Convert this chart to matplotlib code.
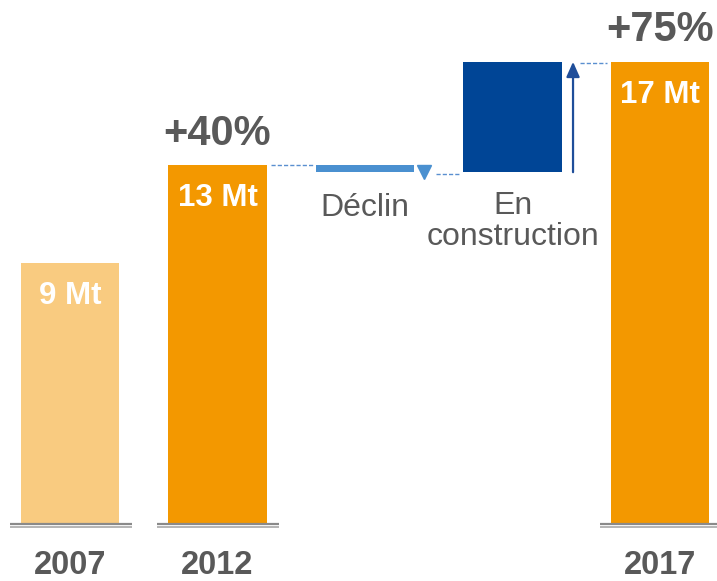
import matplotlib
matplotlib.use("Agg")
import matplotlib.pyplot as plt

# Data
years = ["2007", "2012", "", "", "2017"]
steps = ["", "", "Déclin", "En\nconstruction", ""]
totals = [9.45, 13.0, None, None, 16.75]
decline = -0.25
construction = 4.0
value_labels = ["9 Mt", "13 Mt", "", "", "17 Mt"]
growth_labels = {1: "+40%", 4: "+75%"}

W, H = 717, 581
fig = plt.figure(figsize=(W / 100, H / 100), dpi=100)
ax = fig.add_axes([0, 0, 1, 1])
ax.set_xlim(-0.4746, 4.386)
ax.set_ylim(-2.065, 18.99)
ax.axis("off")

bw = 0.665
c_light = "#F9CB80"
c_orange = "#F39800"
c_decl = "#4A90D0"
c_cons = "#004596"
c_arrow = "#1F4E9A"
c_dash = "#5A8FD0"
gray = "#595959"

# totals
ax.bar(0, totals[0], width=bw, color=c_light, zorder=2)
ax.bar(1, totals[1], width=bw, color=c_orange, zorder=2)
ax.bar(4, totals[4], width=bw, color=c_orange, zorder=2)

# decline bar
start = totals[1]
ax.bar(2, decline, bottom=start, width=bw, color=c_decl, zorder=2)
after_decl = start + decline
# construction bar
ax.bar(3, construction, bottom=after_decl, width=bw, color=c_cons, zorder=2)
end = after_decl + construction

# triangle for decline
ax.plot(2 + 0.40, start - 0.24, marker="v", color=c_decl, markersize=10, zorder=3)
# arrow for construction
ax.annotate("", xy=(3 + 0.41, end), xytext=(3 + 0.41, after_decl),
            arrowprops=dict(arrowstyle="-|>,head_width=0.4,head_length=0.9",
                            color=c_arrow, lw=1.6, shrinkA=0, shrinkB=0), zorder=3)

# dashed connectors
ax.plot([1 + bw / 2 + 0.03, 2 - bw / 2 - 0.02], [start, start], ls=(0, (3, 1.5)),
        color=c_dash, lw=1)
ax.plot([2 + 0.48, 3 - bw / 2 - 0.02], [after_decl - 0.07, after_decl - 0.07],
        ls=(0, (3, 1.5)), color=c_dash, lw=1)
ax.plot([3 + 0.46, 4 - bw / 2 - 0.03], [end - 0.05, end - 0.05],
        ls=(0, (3, 1.5)), color=c_dash, lw=1)

# baselines (double gray lines)
for i in (0, 1, 4):
    ax.plot([i - 0.41, i + 0.42], [0, 0], color="#8a8a8a", lw=1.6, zorder=3,
            solid_capstyle="butt")
    ax.plot([i - 0.41, i + 0.42], [-0.12, -0.12], color="#a8a8a8", lw=1.2,
            zorder=3, solid_capstyle="butt")

# value labels inside bars
for i, lab in enumerate(value_labels):
    if lab:
        ax.text(i, totals[i] - 1.2, lab, ha="center", va="center", color="white",
                fontsize=22.5, fontweight="bold", family="Liberation Sans")

# growth labels
for i, lab in growth_labels.items():
    ax.text(i, totals[i] + 1.15, lab, ha="center", va="center", color=gray,
            fontsize=30, fontweight="bold", family="Liberation Sans")

# year labels
for i, y in enumerate(years):
    if y:
        ax.text(i, -1.5, y, ha="center", va="center", color=gray,
                fontsize=23.5, fontweight="bold", family="Liberation Sans")

# step labels
ax.text(2, 11.45, steps[2], ha="center", va="center", color=gray, fontsize=23,
        family="Liberation Sans")
ax.text(3, 10.95, steps[3], ha="center", va="center", color=gray, fontsize=23,
        family="Liberation Sans", linespacing=1.05)

fig.savefig("out.png", dpi=100)
